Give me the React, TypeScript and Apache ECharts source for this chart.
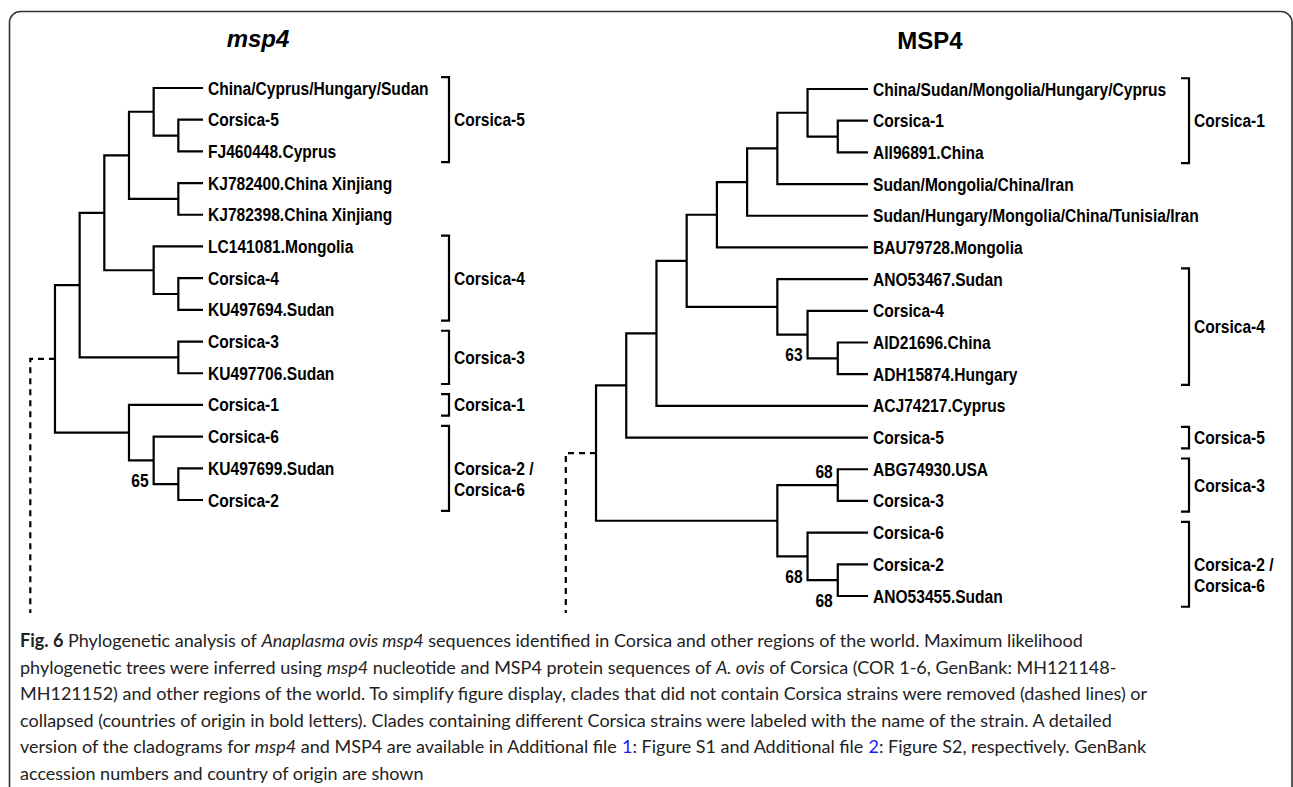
import React, { useEffect, useRef } from "react";
import * as echarts from "echarts";

type Tree = string | Tree[];

// ---------- DATA ----------
// msp4 (nucleotide) cladogram, leaves in top-to-bottom order
const msp4Tree: Tree = [
  [
    [
      [
        ["China/Cyprus/Hungary/Sudan", ["Corsica-5", "FJ460448.Cyprus"]],
        ["KJ782400.China Xinjiang", "KJ782398.China Xinjiang"],
      ],
      ["LC141081.Mongolia", ["Corsica-4", "KU497694.Sudan"]],
    ],
    ["Corsica-3", "KU497706.Sudan"],
  ],
  ["Corsica-1", ["Corsica-6", ["KU497699.Sudan", "Corsica-2"]]],
];
const msp4Support = [{ clade: ["Corsica-6", "Corsica-2"], value: "65", place: "bottom" }];
const msp4Brackets = [
  { label: "Corsica-5", from: "China/Cyprus/Hungary/Sudan", to: "FJ460448.Cyprus" },
  { label: "Corsica-4", from: "LC141081.Mongolia", to: "KU497694.Sudan" },
  { label: "Corsica-3", from: "Corsica-3", to: "KU497706.Sudan" },
  { label: "Corsica-1", from: "Corsica-1", to: "Corsica-1" },
  { label: "Corsica-2 /\nCorsica-6", from: "Corsica-6", to: "Corsica-2" },
];

// MSP4 (protein) cladogram
const MSP4Tree: Tree = [
  [
    [
      [
        [
          [
            [
              ["China/Sudan/Mongolia/Hungary/Cyprus", ["Corsica-1", "AII96891.China"]],
              "Sudan/Mongolia/China/Iran",
            ],
            "Sudan/Hungary/Mongolia/China/Tunisia/Iran",
          ],
          "BAU79728.Mongolia",
        ],
        ["ANO53467.Sudan", ["Corsica-4", ["AID21696.China", "ADH15874.Hungary"]]],
      ],
      "ACJ74217.Cyprus",
    ],
    "Corsica-5",
  ],
  [
    ["ABG74930.USA", "Corsica-3"],
    ["Corsica-6", ["Corsica-2", "ANO53455.Sudan"]],
  ],
];
const MSP4Support = [
  { clade: ["Corsica-4", "ADH15874.Hungary"], value: "63", place: "bottom" },
  { clade: ["ABG74930.USA", "Corsica-3"], value: "68", place: "top" },
  { clade: ["Corsica-6", "ANO53455.Sudan"], value: "68", place: "bottom" },
  { clade: ["Corsica-2", "ANO53455.Sudan"], value: "68", place: "below" },
];
const MSP4Brackets = [
  { label: "Corsica-1", from: "China/Sudan/Mongolia/Hungary/Cyprus", to: "AII96891.China" },
  { label: "Corsica-4", from: "ANO53467.Sudan", to: "ADH15874.Hungary" },
  { label: "Corsica-5", from: "Corsica-5", to: "Corsica-5" },
  { label: "Corsica-3", from: "ABG74930.USA", to: "Corsica-3" },
  { label: "Corsica-2 /\nCorsica-6", from: "Corsica-6", to: "ANO53455.Sudan" },
];

const panelTitles = ["msp4", "MSP4"];

const captionLines = [
  "{b|Fig. 6} Phylogenetic analysis of {i|Anaplasma ovis msp4} sequences identified in Corsica and other regions of the world. Maximum likelihood",
  "phylogenetic trees were inferred using {i|msp4} nucleotide and MSP4 protein sequences of {i|A. ovis} of Corsica (COR 1-6, GenBank: MH121148-",
  "MH121152) and other regions of the world. To simplify figure display, clades that did not contain Corsica strains were removed (dashed lines) or",
  "collapsed (countries of origin in bold letters). Clades containing different Corsica strains were labeled with the name of the strain. A detailed",
  "version of the cladograms for {i|msp4} and MSP4 are available in Additional file {a|1}: Figure S1 and Additional file {a|2}: Figure S2, respectively. GenBank",
  "accession numbers and country of origin are shown",
];

// ---------- LAYOUT HELPERS ----------
type LNode = { x: number; y: number; names: string[]; kids?: LNode[] };

function layoutTree(tree: Tree) {
  const leaves: { name: string; x: number; y: number }[] = [];
  const nodes: LNode[] = [];
  const heightOf = (t: Tree): number =>
    typeof t === "string" ? 0 : 1 + Math.max(...t.map(heightOf));
  const H = heightOf(tree);
  const walk = (t: Tree): LNode => {
    if (typeof t === "string") {
      const n: LNode = { x: H, y: leaves.length, names: [t] };
      leaves.push({ name: t, x: H, y: n.y });
      return n;
    }
    const kids = t.map(walk);
    const n: LNode = {
      x: H - heightOf(t),
      y: (kids[0].y + kids[kids.length - 1].y) / 2,
      names: kids.flatMap((k) => k.names),
      kids,
    };
    nodes.push(n);
    return n;
  };
  const root = walk(tree);
  return { H, leaves, nodes, root };
}

function findClade(nodes: LNode[], names: string[]) {
  let best: LNode | null = null;
  for (const n of nodes) {
    if (names.every((s) => n.names.includes(s))) {
      if (!best || n.names.length < best.names.length) best = n;
    }
  }
  return best as LNode;
}

// Arial-metric bold, horizontally condensed to mimic Arial Narrow Bold
const TREE_FONT = '"Liberation Sans", Arial, sans-serif';
const LABEL_SIZE = 19;
const NARROW = 0.82;
const LINE_W = 2.2;
const DASH_BOTTOM = 613;

const treeText = (text: string, align: string, vAlign: string, extra: any = {}) => ({
  text,
  fill: "#000",
  fontSize: LABEL_SIZE,
  fontWeight: "bold",
  fontFamily: TREE_FONT,
  align,
  verticalAlign: vAlign,
  textAlign: align,
  textVerticalAlign: vAlign,
  ...extra,
});

const panels = [
  {
    tree: msp4Tree, support: msp4Support, brackets: msp4Brackets,
    grid: { left: 30.3, top: 88, width: 172.7, height: 412 },
    bracketOffset: 246, titleX: 258, titleY: 38, italic: true,
  },
  {
    tree: MSP4Tree, support: MSP4Support, brackets: MSP4Brackets,
    grid: { left: 565.8, top: 89, width: 302.2, height: 507 },
    bracketOffset: 321, titleX: 930, titleY: 40, italic: false,
  },
];

function buildOption() {
  const grids: any[] = [];
  const xAxes: any[] = [];
  const yAxes: any[] = [];
  const series: any[] = [];
  const graphics: any[] = [];

  panels.forEach((p, gi) => {
    const L = layoutTree(p.tree);
    grids.push({ ...p.grid, containLabel: false });
    xAxes.push({ gridIndex: gi, type: "value", min: -1, max: L.H, show: false });
    yAxes.push({ gridIndex: gi, type: "value", min: 0, max: L.leaves.length - 1, inverse: true, show: false });
    const ax = { xAxisIndex: gi, yAxisIndex: gi, coordinateSystem: "cartesian2d" };

    // branches
    series.push({
      type: "custom", ...ax, silent: true, clip: false,
      data: L.nodes.map((n) => {
        const a = n.kids![0];
        const b = n.kids![n.kids!.length - 1];
        return [n.x, a.x, a.y, b.x, b.y];
      }),
      renderItem: (params: any, api: any) => {
        const nx = api.value(0);
        const p1 = api.coord([api.value(1), api.value(2)]);
        const p2 = api.coord([nx, api.value(2)]);
        const p3 = api.coord([nx, api.value(4)]);
        const p4 = api.coord([api.value(3), api.value(4)]);
        return {
          type: "polyline",
          shape: { points: [p1, p2, p3, p4] },
          style: { stroke: "#000", fill: "none", lineWidth: LINE_W, lineJoin: "miter" },
        };
      },
    });

    // removed clade (dashed)
    series.push({
      type: "custom", ...ax, silent: true, clip: false,
      data: [[L.root.x, L.root.y]],
      renderItem: (params: any, api: any) => {
        const a = api.coord([api.value(0), api.value(1)]);
        const b = api.coord([api.value(0) - 1, api.value(1)]);
        return {
          type: "polyline",
          shape: { points: [a, b, [b[0], DASH_BOTTOM]] },
          style: { stroke: "#000", fill: "none", lineWidth: LINE_W, lineDash: [6, 5] },
        };
      },
    });

    // leaf labels
    series.push({
      type: "custom", ...ax, silent: true, clip: false,
      data: L.leaves.map((l) => ({ name: l.name, value: [l.x, l.y] })),
      renderItem: (params: any, api: any) => {
        const c = api.coord([api.value(0), api.value(1)]);
        return {
          type: "text",
          x: c[0] + 5, y: c[1], scaleX: NARROW,
          style: treeText(L.leaves[params.dataIndex].name, "left", "middle"),
        };
      },
    });

    // bootstrap support
    const sup = p.support.map((s) => {
      const n = findClade(L.nodes, s.clade);
      const kids = n.kids!;
      const yy = s.place === "top" ? kids[0].y : kids[kids.length - 1].y;
      return { value: [n.x, yy], text: s.value, place: s.place };
    });
    series.push({
      type: "custom", ...ax, silent: true, clip: false,
      data: sup.map((s) => ({ value: s.value })),
      renderItem: (params: any, api: any) => {
        const s = sup[params.dataIndex];
        const c = api.coord([api.value(0), api.value(1)]);
        const dy = s.place === "top" ? 2 : s.place === "below" ? 4 : -4;
        return {
          type: "text",
          x: c[0] - 5, y: c[1] + dy, scaleX: NARROW,
          style: treeText(s.text, "right", "middle"),
        };
      },
    });

    // brackets
    const idx = (name: string) => L.leaves.findIndex((l) => l.name === name);
    const br = p.brackets.map((b) => ({ top: idx(b.from) - 0.34, bottom: idx(b.to) + 0.34, label: b.label }));
    series.push({
      type: "custom", ...ax, silent: true, clip: false,
      data: br.map((b) => [L.H, b.top, b.bottom]),
      renderItem: (params: any, api: any) => {
        const t = api.coord([api.value(0), api.value(1)]);
        const bt = api.coord([api.value(0), api.value(2)]);
        const x = t[0] + p.bracketOffset;
        const c = (t[1] + bt[1]) / 2;
        const lbl = br[params.dataIndex].label;
        const multi = lbl.includes("\n");
        return {
          type: "group",
          children: [
            {
              type: "polyline",
              shape: { points: [[x - 8, t[1]], [x, t[1]], [x, bt[1]], [x - 8, bt[1]]] },
              style: { stroke: "#000", fill: "none", lineWidth: LINE_W },
            },
            {
              type: "text",
              x: x + 5,
              y: multi ? c - 10.5 : c,
              scaleX: NARROW,
              style: treeText(lbl, "left", multi ? "top" : "middle", { lineHeight: 21 }),
            },
          ],
        };
      },
    });

    graphics.push({
      type: "text",
      x: p.titleX, y: p.titleY,
      style: {
        text: panelTitles[gi], fill: "#000", fontSize: 24, fontWeight: "bold",
        fontStyle: p.italic ? "italic" : "normal",
        fontFamily: '"Liberation Sans", Arial, sans-serif',
        align: "center", verticalAlign: "middle", textAlign: "center", textVerticalAlign: "middle",
      },
    });
  });

  // frame
  graphics.push({
    type: "rect",
    shape: { x: 9.5, y: 11.5, width: 1282.5, height: 900, r: [11, 11, 0, 0] },
    style: { fill: "none", stroke: "#333", lineWidth: 1.6 },
    silent: true,
  });

  // caption
  const capFont = "Lato, 'Open Sans', sans-serif";
  const capSize = 18;
  const tok = (extra: any) => ({ fontSize: capSize, fontFamily: capFont, fill: "#222", color: "#222", ...extra });
  captionLines.forEach((line, i) => {
    graphics.push({
      type: "text",
      x: 20, y: 640 + i * 26.6,
      style: {
        text: line,
        fontSize: capSize, fontFamily: capFont, fill: "#222",
        align: "left", verticalAlign: "middle", textAlign: "left", textVerticalAlign: "middle",
        rich: {
          b: tok({ fontWeight: "bold" }),
          i: tok({ fontStyle: "italic" }),
          a: tok({ fill: "#1a1aff", color: "#1a1aff" }),
        },
      },
    });
  });

  return {
    animation: false,
    backgroundColor: "#fff",
    grid: grids,
    xAxis: xAxes,
    yAxis: yAxes,
    series,
    graphic: graphics,
  };
}

export default function App() {
  const ref = useRef<HTMLDivElement>(null);
  useEffect(() => {
    const chart = echarts.init(ref.current!, undefined, { renderer: "svg" });
    chart.setOption(buildOption() as any);
    return () => chart.dispose();
  }, []);
  return (
    <div
      ref={ref}
      style={{ position: "fixed", left: 0, top: 0, width: 1293, height: 787, background: "#fff" }}
    />
  );
}
